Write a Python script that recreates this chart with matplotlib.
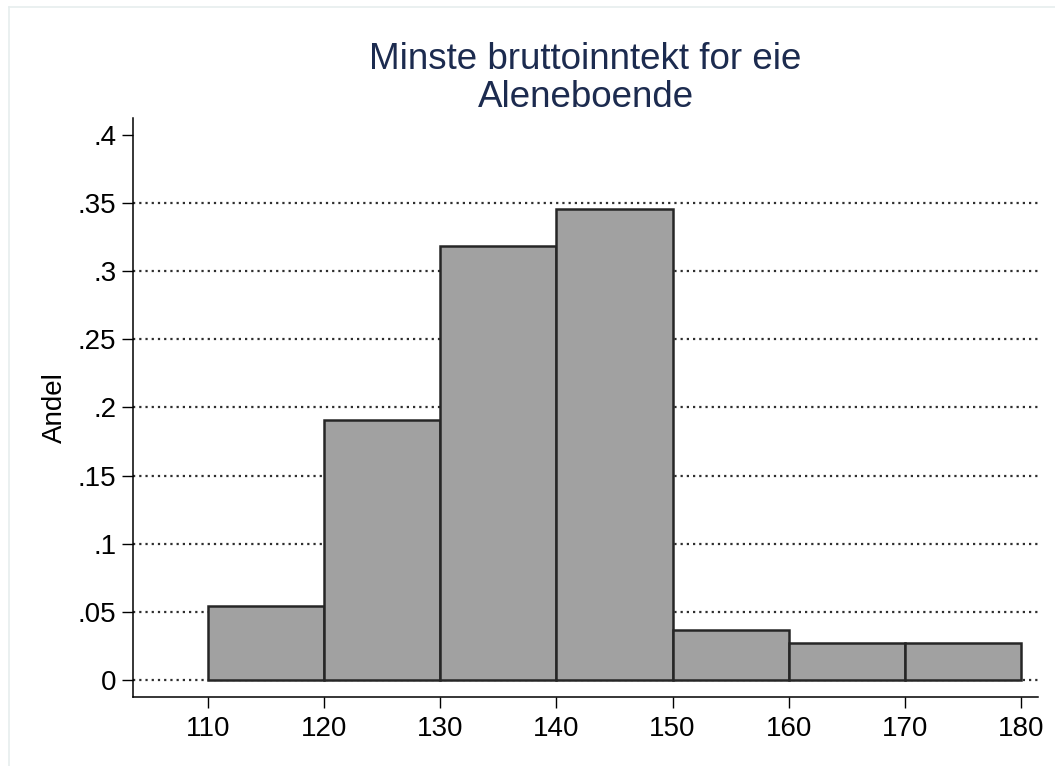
import matplotlib
matplotlib.use("Agg")
import matplotlib.pyplot as plt
from matplotlib.lines import Line2D

bin_edges = [110, 120, 130, 140, 150, 160, 170, 180]
shares = [0.0545, 0.1909, 0.3182, 0.3455, 0.0364, 0.0273, 0.0273]
x_ticks = [110, 120, 130, 140, 150, 160, 170, 180]
x_ticklabels = ["110", "120", "130", "140", "150", "160", "170", "180"]
y_ticks = [0, 0.05, 0.1, 0.15, 0.2, 0.25, 0.3, 0.35, 0.4]
y_ticklabels = ["0", ".05", ".1", ".15", ".2", ".25", ".3", ".35", ".4"]
grid_levels = [0, 0.05, 0.1, 0.15, 0.2, 0.25, 0.3, 0.35]
title = "Minste bruttoinntekt for eie\nAleneboende"
ylabel = "Andel"

plt.rcParams['font.family'] = ['Liberation Sans', 'DejaVu Sans']

fig = plt.figure(figsize=(10.55, 7.66), dpi=100)
fig.patch.set_facecolor("white")
ax = fig.add_axes([133/1055, 1-697/766, (1038-133)/1055, (697-118)/766])

# faint outer frame (top and left)
fig.add_artist(Line2D([9/1055, 1], [1-7/766, 1-7/766], transform=fig.transFigure, color="#e6eeee", lw=1.2))
fig.add_artist(Line2D([9/1055, 9/1055], [0, 1-7/766], transform=fig.transFigure, color="#e6eeee", lw=1.2))

ax.set_xlim(103.54, 181.46)
ax.set_ylim(-0.01247, 0.4124)

for g in grid_levels:
    ax.axhline(g, color="#2e2e2e", lw=1.6, linestyle=(0, (1, 1.8)), zorder=1)

widths = [bin_edges[i+1] - bin_edges[i] for i in range(len(shares))]
ax.bar(bin_edges[:-1], shares, width=widths, align="edge", color="#a1a1a1",
       edgecolor="#262626", linewidth=1.8, zorder=2)

ax.set_xticks(x_ticks)
ax.set_xticklabels(x_ticklabels)
ax.set_yticks(y_ticks)
ax.set_yticklabels(y_ticklabels)
ax.tick_params(axis="both", direction="out", length=8, width=1, labelsize=20, colors="black")
ax.tick_params(axis="y", pad=4)
ax.tick_params(axis="x", pad=6)

for s in ["top", "right"]:
    ax.spines[s].set_visible(False)
for s in ["left", "bottom"]:
    ax.spines[s].set_linewidth(1.1)
    ax.spines[s].set_color("black")

ax.set_ylabel(ylabel, fontsize=20, labelpad=7)
ax.set_title(title, fontsize=26.5, color="#1c2b4f", pad=8, linespacing=1.12)

fig.savefig("out.png", dpi=100, facecolor="white")
